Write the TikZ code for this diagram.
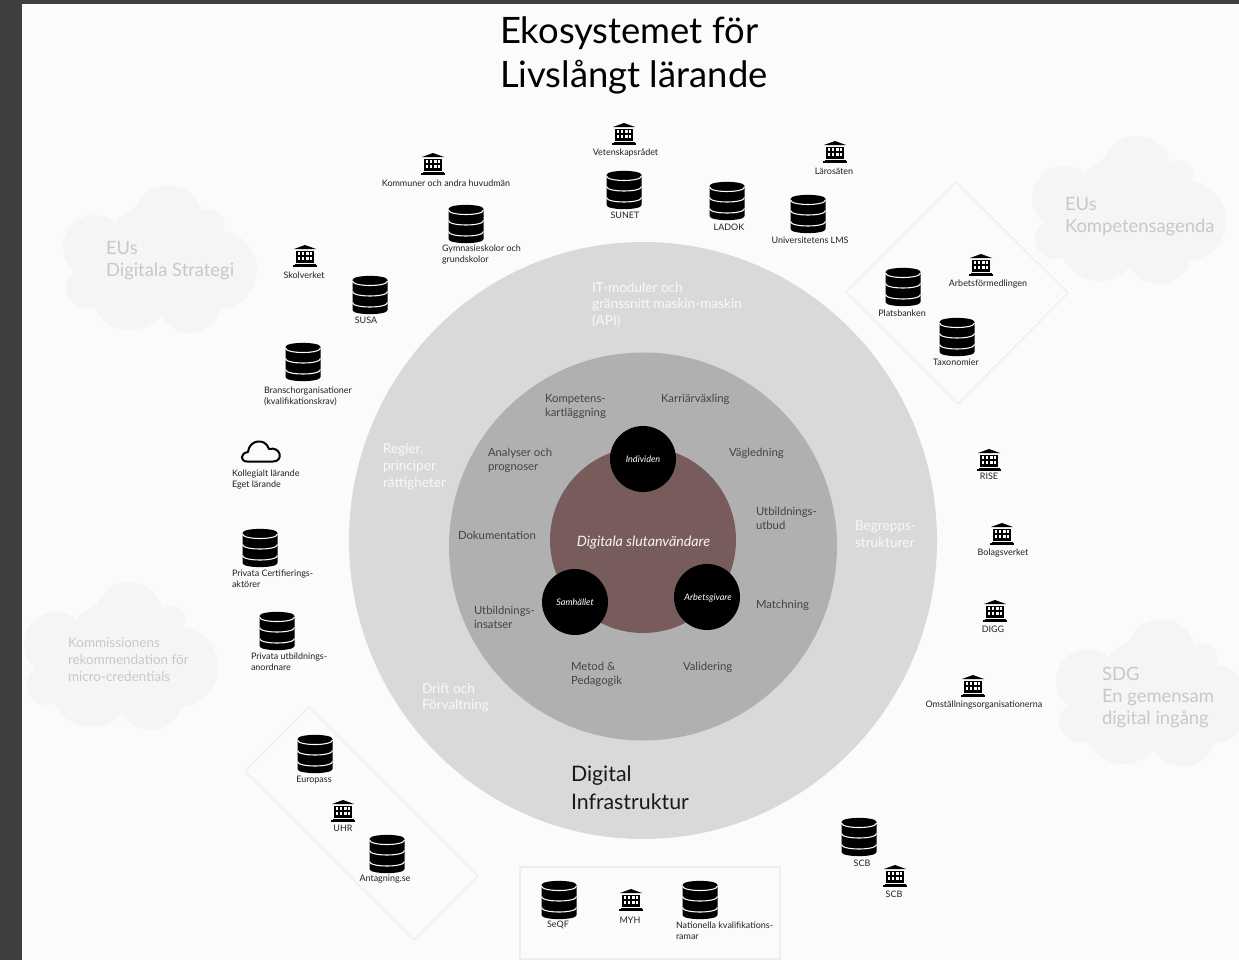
\documentclass[tikz,border=0pt]{standalone}
\usepackage{fontspec}
\setmainfont{Lato}
\definecolor{frame}{HTML}{3F3F3F}
\definecolor{paper}{HTML}{FBFBFB}
\definecolor{cloudc}{HTML}{F5F5F5}
\definecolor{cloudt}{HTML}{C8C8C8}
\definecolor{outerc}{HTML}{D9D9D9}
\definecolor{midc}{HTML}{B0B0B0}
\definecolor{brownc}{HTML}{785C5C}
\definecolor{boxc}{HTML}{EEEEEE}
\definecolor{inkc}{HTML}{222222}
\tikzset{
  base/.style={inner sep=0pt,outer sep=0pt,align=left},
  small/.style={base,yshift=-0.3pt,text=inkc,font=\fontsize{6.72}{8.2}\selectfont},
  inner/.style={base,yshift=-1.2pt,text=inkc!85!white,font=\fontsize{8.5}{10.4}\selectfont},
  ring/.style={base,yshift=-0.9pt,text=white!95!gray,font=\fontsize{10.2}{12.4}\selectfont},
  cloudbig/.style={base,yshift=-1.4pt,text=cloudt,font=\fontsize{13.8}{16.6}\selectfont},
  cloudsm/.style={base,text=cloudt,font=\fontsize{10.1}{12.5}\selectfont},
  titletxt/.style={base,text=black,font=\fontsize{27.3}{33}\selectfont},
  infra/.style={base,text=black!90,font=\fontsize{16}{21}\selectfont},
  hub/.style={base,text=white,font=\fontsize{6.8}{8}\itshape\selectfont},
  dbicon/.pic={
    \fill[black] (-17.5,-15) .. controls (-17.5,-20.5) and (17.5,-20.5) .. (17.5,-15)
      -- (17.5,15) .. controls (17.5,20.5) and (-17.5,20.5) .. (-17.5,15) -- cycle;
    \foreach \d in {-14,-3.5,7.5}
      \draw[paper,line width=0.8pt] (-17.5,\d) .. controls (-17.5,\d+6) and (17.5,\d+6) .. (17.5,\d);
  },
  bankicon/.pic={
    \fill[black] (0,-11) -- (11,-7) -- (-11,-7) -- cycle;
    \fill[black] (-9,-5.5) rectangle (9,7);
    \fill[black] (-10.5,7.5) rectangle (10.5,9);
    \fill[black] (-12,9) rectangle (12,11);
    \foreach \a in {-6.2,-2.4,2.4,6.2} \foreach \b in {-2.6,2.6}
      \fill[white] (\a-1.1,\b-1.7) rectangle (\a+1.1,\b+1.7);
  },
  cloudblob/.pic={
    \fill[cloudc] (168,219) circle[radius=34];
    \fill[cloudc] (95,247) circle[radius=32];
    \fill[cloudc] (210,223) circle[radius=14];
    \fill[cloudc] (217,270) circle[radius=40];
    \fill[cloudc] (86,288) circle[radius=20];
    \fill[cloudc] (130,290) circle[radius=40];
    \fill[cloudc] (190,301) circle[radius=32];
    \fill[cloudc] (165,262) circle[radius=45];
    \fill[cloudc] (118,218) -- (140,205) -- (205,215) -- (225,232) -- (222,300) -- (100,280) -- cycle;
  },
}
\begin{document}
\begin{tikzpicture}[x=0.75pt,y=-0.75pt]
\useasboundingbox (0,0) rectangle (1239,960);
\clip (0,0) rectangle (1239,960);
\fill[frame] (0,0) rectangle (1239,960);
\fill[paper] (22,4) rectangle (1239,960);

% clouds
\pic at (0,0) {cloudblob};
\pic at (969,-49) {cloudblob};
\pic at (-39,397) {cloudblob};
\pic at (993,434) {cloudblob};

% groups
\draw[boxc,line width=0.8pt] (956,182) -- (1068,293) -- (958,404) -- (846,292) -- cycle;
\draw[boxc,line width=0.8pt] (309,707) -- (478,876) -- (414,940) -- (245,771) -- cycle;
\draw[boxc,line width=0.8pt] (520,867) rectangle (780,959);

% rings
\fill[outerc] (643,540.5) ellipse [x radius=294,y radius=298.5];
\fill[midc] (643,546.5) circle [radius=194];
\fill[brownc] (643,540) circle [radius=93];
\fill[black] (643,459) circle [radius=33];
\fill[black] (707,597) circle [radius=33];
\fill[black] (575,602) circle [radius=33];

% title
\node[titletxt,anchor=west] (title) at (500,55) {Ekosystemet för\\Livslångt lärande};

% ring labels
\node[ring,anchor=west] (api) at (592,303.5) {IT-moduler och\\gränssnitt maskin-maskin\\(API)};
\node[ring,anchor=west] (regler) at (383,465.5) {Regler,\\principer\\rättigheter};
\node[ring,anchor=west] (begrepp) at (855,533) {Begrepps-\\strukturer};
\node[ring,anchor=west] (drift) at (422,696.5) {Drift och\\Förvaltning};
\node[infra,anchor=west] (infrast) at (571,788) {Digital\\Infrastruktur};

% inner labels
\node[inner,anchor=west] (komp) at (545,405) {Kompetens-\\kartläggning};
\node[inner,anchor=west] (karr) at (661,398) {Karriärväxling};
\node[inner,anchor=west] (anal) at (488,459) {Analyser och\\prognoser};
\node[inner,anchor=west] (vag) at (729,452) {Vägledning};
\node[inner,anchor=west] (utbud) at (756,516.5) {Utbildnings-\\utbud};
\node[inner,anchor=west] (dok) at (458,534) {Dokumentation};
\node[inner,anchor=west] (match) at (756,604) {Matchning};
\node[inner,anchor=west] (insats) at (474,616) {Utbildnings-\\insatser};
\node[inner,anchor=west] (metod) at (571,673) {Metod \&\\Pedagogik};
\node[inner,anchor=west] (valid) at (683,666) {Validering};

% centre
\node[base,text=white!92!gray,font=\fontsize{10.7}{13}\itshape\selectfont] (slut) at (643.5,542.5) {Digitala slutanvändare};
\node[hub] (ind) at (643,459.5) {Individen};
\node[hub] (arb) at (708,597.5) {Arbetsgivare};
\node[hub] (sam) at (575,602.5) {Samhället};

% cloud labels
\node[cloudbig,anchor=west] (c1) at (106,259) {EUs\\Digitala Strategi};
\node[cloudbig,anchor=west] (c2) at (1065,215) {EUs\\Kompetensagenda};
\node[cloudsm,anchor=west] (c3) at (68,659.5) {Kommissionens\\rekommendation för\\micro-credentials};
\node[cloudbig,anchor=west] (c4) at (1102,695.5) {SDG\\En gemensam\\digital ingång};

% databases
\pic at (624,190) {dbicon};
\node[small] (sunet) at (625,215) {SUNET};
\pic at (727,201) {dbicon};
\node[small] (ladok) at (729,226.5) {LADOK};
\pic at (808,214) {dbicon};
\node[small] (lms) at (810,240) {Universitetens LMS};
\pic at (466,224) {dbicon};
\node[small,anchor=west] (gym) at (442,254.5) {Gymnasieskolor och\\grundskolor};
\pic at (370,295) {dbicon};
\node[small] (susa) at (366,319.5) {SUSA};
\pic at (303,362) {dbicon};
\node[small,anchor=west] (bransch) at (264,395.5) {Branschorganisationer\\(kvalifikationskrav)};
\pic at (260,548) {dbicon};
\node[small,anchor=west] (cert) at (232,578.5) {Privata Certifierings-\\aktörer};
\pic at (277,631) {dbicon};
\node[small,anchor=west] (anord) at (251,661) {Privata utbildnings-\\anordnare};
\pic at (315,754) {dbicon};
\node[small] (europass) at (314,780) {Europass};
\pic at (387,854) {dbicon};
\node[small] (antag) at (385,879) {Antagning.se};
\pic at (559,900) {dbicon};
\node[small] (seqf) at (558,925) {SeQF};
\pic at (700,900) {dbicon};
\node[small,anchor=west] (nat) at (676,930.5) {Nationella kvalifikations-\\ramar};
\pic at (903,287) {dbicon};
\node[small] (plats) at (902,313) {Platsbanken};
\pic at (957,337) {dbicon};
\node[small] (tax) at (956,362) {Taxonomier};
\pic at (859,837) {dbicon};
\node[small] (scba) at (862,862.5) {SCB};

% institutions
\pic at (624,134) {bankicon};
\node[small] (vet) at (625.5,152.5) {Vetenskapsrådet};
\pic at (433,164) {bankicon};
\node[small] (komm) at (446,183) {Kommuner och andra huvudmän};
\pic at (835,152) {bankicon};
\node[small] (laro) at (834,171) {Lärosäten};
\pic at (305,256) {bankicon};
\node[small] (skol) at (304,275) {Skolverket};
\pic at (981,265) {bankicon};
\node[small] (arbf) at (988,284) {Arbetsförmedlingen};
\pic at (989,460) {bankicon};
\node[small] (rise) at (989,476) {RISE};
\pic at (1002,534) {bankicon};
\node[small] (bol) at (1003,553) {Bolagsverket};
\pic at (995,611) {bankicon};
\node[small] (digg) at (993,629) {DIGG};
\pic at (973,686) {bankicon};
\node[small] (omst) at (984,705) {Omställningsorganisationerna};
\pic at (343,811) {bankicon};
\node[small] (uhr) at (343,828) {UHR};
\pic at (631,900) {bankicon};
\node[small] (myh) at (630,919.5) {MYH};
\pic at (895,876) {bankicon};
\node[small] (scbb) at (894,894) {SCB};

% cloud icon
\draw[black,line width=1.5pt,line join=round] (247,461.5)
  .. controls (240,461.5) and (240,453) .. (248,452)
  .. controls (249,440) and (265,437) .. (269,449)
  .. controls (281,446) and (284,461.5) .. (273,461.5) -- cycle;
\node[small,anchor=west] (koll) at (232,479.5) {Kollegialt lärande\\Eget lärande};
\end{tikzpicture}
\end{document}
